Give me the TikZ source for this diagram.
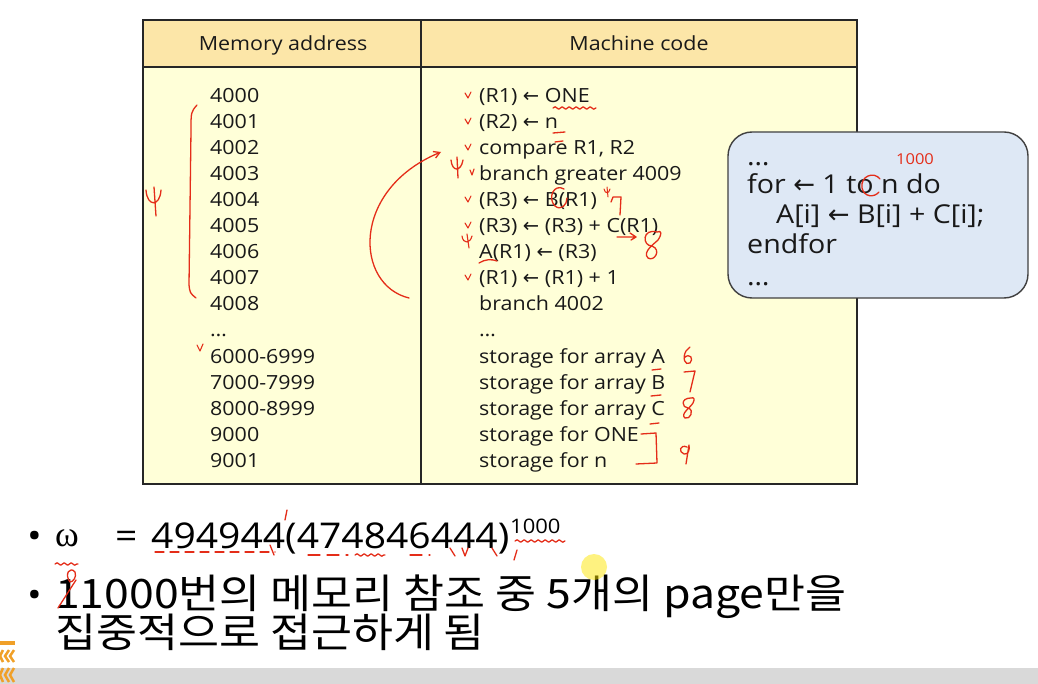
\documentclass[tikz,border=0pt]{standalone}
\usepackage{fontspec}
\setmainfont[FakeStretch=1.1]{Open Sans}
\newfontfamily\kr[FakeStretch=1.1]{Noto Sans CJK KR}
\newfontfamily\arrfont{DejaVu Sans}
\newfontfamily\grk{Liberation Serif}
\usetikzlibrary{arrows.meta,decorations.pathmorphing}
\definecolor{headyel}{RGB}{252,230,168}
\definecolor{bodyyel}{RGB}{255,255,216}
\definecolor{boxblue}{RGB}{222,232,245}
\definecolor{hred}{RGB}{228,45,25}
\definecolor{barg}{RGB}{217,217,217}
\definecolor{logoor}{RGB}{240,160,40}
\newcommand\arr{{\arrfont ←}}
\tikzset{
  tline/.style={draw=black!85, line width=1.4pt},
  cell/.style={anchor=base west, inner sep=0pt, font=\fontsize{19.5}{20}\selectfont, text=black!90},
  headtext/.style={anchor=base, inner sep=0pt, font=\fontsize{19.5}{20}\selectfont, text=black!90},
  codetext/.style={anchor=base west, inner sep=0pt, font=\fontsize{26}{28}\selectfont, text=black!90},
  bullet/.style={anchor=base west, inner sep=0pt, font=\fontsize{35.5}{40}\selectfont},
  hand/.style={draw=hred, line width=1.3pt, line cap=round, line join=round},
  handnum/.style={inner sep=0pt, text=hred, font=\fontsize{22}{22}\selectfont\itshape},
  chk/.style={hand, line width=1.1pt},
}
\begin{document}
\begin{tikzpicture}[x=1pt,y=-1pt]
\useasboundingbox (0,0) rectangle (1038,684);
\fill[white] (0,0) rectangle (1038,684);
% table
\fill[bodyyel] (143,20) rectangle (857,484);
\fill[headyel] (143,20) rectangle (857,67);
\draw[tline] (143,20) rectangle (857,484);
\draw[tline] (143,67) -- (857,67);
\draw[tline] (421,20) -- (421,484);
\node[headtext] (h1) at (283,51) {Memory address};
\node[headtext] (h2) at (639,51) {Machine code};
\foreach \t [count=\i] in {4000,4001,4002,4003,4004,4005,4006,4007,4008,…,6000-6999,7000-7999,8000-8999,9000,9001}
  \node[cell] (m\i) at (210,{103+26*(\i-1)}) {\t};
\foreach \t [count=\i] in {{(R1) \arr{} ONE},{(R2) \arr{} n},{compare R1, R2},{branch greater 4009},{(R3) \arr{} B(R1)},{(R3) \arr{} (R3) + C(R1)},{A(R1) \arr{} (R3)},{(R1) \arr{} (R1) + 1},{branch 4002},{…},{storage for array A},{storage for array B},{storage for array C},{storage for ONE},{storage for n}}
  \node[cell] (c\i) at (479,{103+26*(\i-1)}) {\t};
% code box
\node[draw=black!75, line width=1.4pt, fill=boxblue, rounded corners=24pt, minimum width=300pt, minimum height=166pt, inner sep=0pt] (box) at (878,215) {};
\node[codetext] (k1) at (747,166) {…};
\node[codetext] (k2) at (747,194) {for \arr{} 1 to n do};
\node[codetext] (k3) at (776,224) {A[i] \arr{} B[i] + C[i];};
\node[codetext] (k4) at (747,254) {endfor};
\node[codetext] (k5) at (747,286) {…};
% bullets
\node[bullet] (d1) at (27,548) {•};
\node[bullet, font=\grk\fontsize{36}{40}\selectfont] (b1w) at (55,546) {ω};
\node[bullet] (b1e) at (115,548) {=};
\node[bullet] (b1) at (151,548) {494944(474846444)};
\node[anchor=base west, inner sep=0pt, font=\fontsize{20}{20}\selectfont] (b1s) at (510,533) {1000};
\node[bullet] (d2) at (27,607) {•};
\node[bullet, font=\kr\fontsize{40.5}{40}\selectfont] (b2) at (55,608) {11000번의 메모리 참조 중 5개의 page만을};
\node[bullet, font=\kr\fontsize{40.5}{40}\selectfont] (b3) at (55,647) {집중적으로 접근하게 됨};
% highlight
\fill[yellow!90!orange, opacity=0.5] (594,567) circle (13);
% bottom bar and logo
\fill[barg] (0,668) rectangle (1038,684);
\fill[logoor] (0,641) rectangle (15,645);
\draw[logoor, line width=2.5pt] (3,650) -- (0,656) -- (3,662) (9,650) -- (5,656) -- (9,662) (14,650) -- (10,656) -- (14,662)
  (3,668) -- (0,675) -- (3,682) (9,668) -- (5,675) -- (9,682) (14,668) -- (10,675) -- (14,682);
% ---- red handwriting ----
\draw[hand] (197,105) .. controls (191,112) .. (191,130) -- (189,285) .. controls (190,293) .. (196,298);
\draw[hand] (146,190) .. controls (147,207) and (160,207) .. (161,190) (154,187) -- (156,216);
\draw[hand, -{Straight Barb[length=6pt,width=7pt]}] (409,298) .. controls (355,285) and (350,190) .. (441,152);
\draw[hand] (451,160) .. controls (452,172) and (461,172) .. (463,160) (457,157) -- (458,178);
\foreach \yy in {96,122,148,200,226,278}
  \draw[chk] (465,\yy-3) -- (468,\yy+2) -- (471,\yy-4);
\draw[chk] (470,170) -- (472,175) -- (474,169);
\draw[chk] (462,236) .. controls (463,244) and (470,244) .. (472,236) (467,234) -- (469,248);
\draw[chk] (197,345) -- (200,351) -- (203,344);
\draw[hand, decorate, decoration={snake, amplitude=1.2pt, segment length=7pt}] (553,108) -- (596,108);
\draw[hand] (553,133) -- (565,132);
\draw[hand] (555,142) -- (563,141);
\draw[hand] (564,189) .. controls (554,183) and (547,198) .. (555,206) .. controls (561,211) and (567,205) .. (567,198);
\draw[hand, line width=1pt] (604,189) .. controls (605,194) and (609,194) .. (610,189) (607,187) -- (608,197);
\draw[hand] (611,202) -- (613,197) -- (621,197) -- (620,215);
\draw[hand] (617,237) -- (635,237) (630,233) -- (636,237) -- (631,240);
\draw[hand] (657,232) .. controls (642,228) and (642,246) .. (652,246) .. controls (662,250) and (654,262) .. (648,258) .. controls (642,252) and (654,244) .. (658,240) .. controls (662,234) and (662,230) .. (657,232);
\draw[hand] (479,263) .. controls (485,259) and (492,259) .. (497,261);
\draw[hand] (652,370) -- (661,369) (651,396) -- (661,395) (650,424) -- (659,423);
\draw[hand] (686,351) .. controls (682,358) and (685,366) .. (690,363) .. controls (694,359) and (690,352) .. (684,358) (686,351) -- (690,347);
\draw[hand] (684,372) -- (695,371) -- (690,392);
\draw[hand] (691,398) .. controls (680,398) and (682,408) .. (688,408) .. controls (695,410) and (690,420) .. (685,418) .. controls (680,414) and (690,408) .. (693,403) .. controls (695,399) and (694,397) .. (691,398);
\draw[hand] (641,434) -- (656,433) -- (657,463) -- (636,464);
\draw[hand] (687,447) .. controls (680,444) and (678,452) .. (684,454) .. controls (688,455) and (690,450) .. (689,445) -- (686,464);
\draw[hand] (880,179) .. controls (874,171) and (860,176) .. (862,188) .. controls (864,197) and (874,198) .. (879,192);
\node[handnum, font=\fontsize{15}{15}\selectfont] (ann) at (915,159) {1000};
% bullet 1 marks
\draw[hand, decorate, decoration={snake, amplitude=1.2pt, segment length=7pt}] (55,564) -- (78,564);
\draw[hand, dashed, dash pattern=on 9pt off 6pt] (155,552) -- (275,552);
\draw[hand, decorate, decoration={snake, amplitude=1.2pt, segment length=7pt}] (355,555) -- (385,555);
\draw[hand, dash pattern=on 12pt off 7pt] (308,555) -- (348,555) (410,555) -- (430,555);
\draw[hand, decorate, decoration={snake, amplitude=1.2pt, segment length=7pt}] (515,541) -- (565,541);
\draw[hand] (270,545) -- (274,555) (287,510) -- (285,520) (462,548) -- (465,556) -- (468,548) (492,548) -- (497,556) (450,548) -- (455,556) (517,550) -- (514,560);
\draw[hand] (58,608) -- (76,580);
\draw[hand] (70,582) .. controls (64,574) and (70,566) .. (75,572) .. controls (77,577) and (73,582) .. (70,582);
\end{tikzpicture}
\end{document}
